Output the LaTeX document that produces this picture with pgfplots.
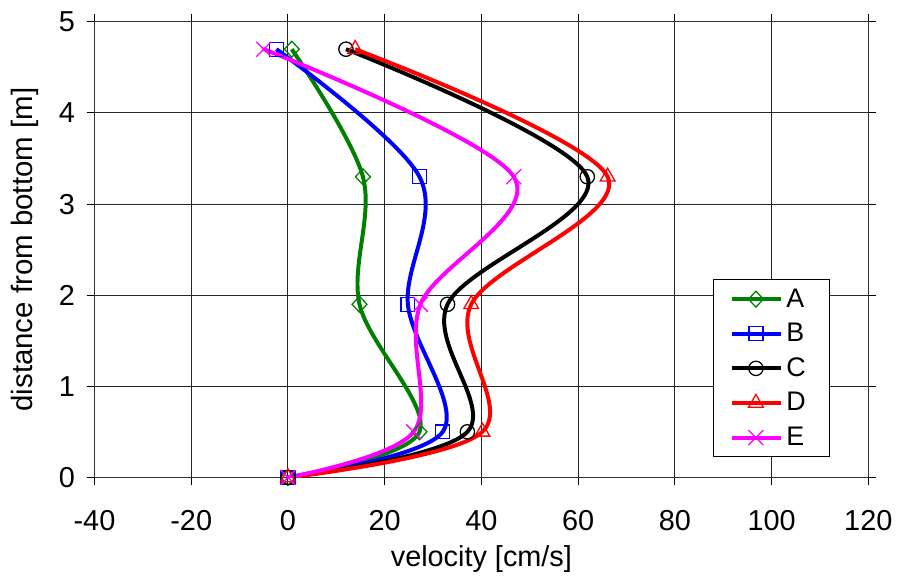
\documentclass[border=0pt]{standalone}
\usepackage{fontspec}
\setmainfont{Liberation Sans}
\usepackage{pgfplots}
\pgfplotsset{compat=1.18}
\definecolor{cA}{RGB}{0,128,0}
\definecolor{cB}{RGB}{0,0,255}
\definecolor{cC}{RGB}{0,0,0}
\definecolor{cD}{RGB}{255,0,0}
\definecolor{cE}{RGB}{255,0,255}
\begin{document}
\begin{tikzpicture}
\begin{axis}[
  scale only axis, width=389pt, height=229pt,
  xmin=-40, xmax=120, ymin=0, ymax=5,
  xtick={-40,-20,...,120}, ytick={0,1,...,5},
  grid=major, major grid style={black!85, line width=0.5pt},
  axis line style={black!80, line width=0.6pt},
  tick align=outside, major tick length=4pt, tick style={black, line width=0.5pt},
  font=\fontsize{14.5}{17}\selectfont,
  xticklabel style={yshift=-9.2pt},
  yticklabel style={xshift=-2.3pt},
  xlabel={velocity [cm/s]}, ylabel={distance from bottom [m]},
  xlabel style={at={(axis description cs:0.5,-0.1965)}, anchor=base},
  ylabel style={at={(axis description cs:-0.0797,0.5)}, anchor=base, font=\fontsize{14.8}{17}\selectfont},
  /pgf/number format/assume math mode=true,
  legend style={at={(rel axis cs:0.7995,0.0437)}, anchor=south west, draw=black, line width=0.5pt,
    font=\fontsize{13.5}{16}\selectfont, row sep=1.4pt, column sep=0pt,
    inner xsep=8pt, inner ysep=1.75pt,
    nodes={text height=10pt, text depth=2pt, inner sep=2pt}},
  legend cell align=left,
  legend image code/.code={\draw[#1, mark repeat=2, mark phase=2] plot coordinates {(0pt,0pt) (12.25pt,0pt) (24.5pt,0pt)};},
  every axis plot/.append style={line width=2pt, smooth, tension=0.55},
]
\coordinate (bbSW) at (axis description cs:-0.1221,-0.2118);
\coordinate (bbNE) at (axis description cs:1.0334,1.048);
\addplot[cA, mark=diamond, mark size=4pt, mark options={solid, line width=0.65pt, fill=none, xscale=1.25}] coordinates {(0,0) (27.2,0.5) (14.8,1.9) (15.5,3.3) (0.8,4.7)};
\addlegendentry{A\hspace*{2pt}}
\addplot[cB, mark=square, mark size=3.5pt, mark options={solid, line width=0.65pt, fill=none}] coordinates {(0,0) (32.0,0.5) (24.8,1.9) (27.2,3.3) (-2.4,4.7)};
\addlegendentry{B\hspace*{2pt}}
\addplot[cC, mark=o, mark size=3.6pt, mark options={solid, line width=0.65pt, fill=none}] coordinates {(0,0) (37.1,0.5) (33.0,1.9) (61.9,3.3) (12.0,4.7)};
\addlegendentry{C\hspace*{2pt}}
\addplot[cD, mark=triangle, mark size=4.3pt, mark options={solid, line width=0.65pt, fill=none}] coordinates {(0,0) (40.2,0.5) (37.9,1.9) (66.1,3.3) (13.9,4.7)};
\addlegendentry{D\hspace*{2pt}}
\addplot[cE, mark=x, mark size=5.3pt, mark options={solid, line width=0.65pt, fill=none}] coordinates {(0,0) (26.0,0.5) (27.4,1.9) (46.7,3.3) (-5.0,4.7)};
\addlegendentry{E\hspace*{2pt}}
\end{axis}
\path (bbSW) rectangle (bbNE);
\end{tikzpicture}
\end{document}
